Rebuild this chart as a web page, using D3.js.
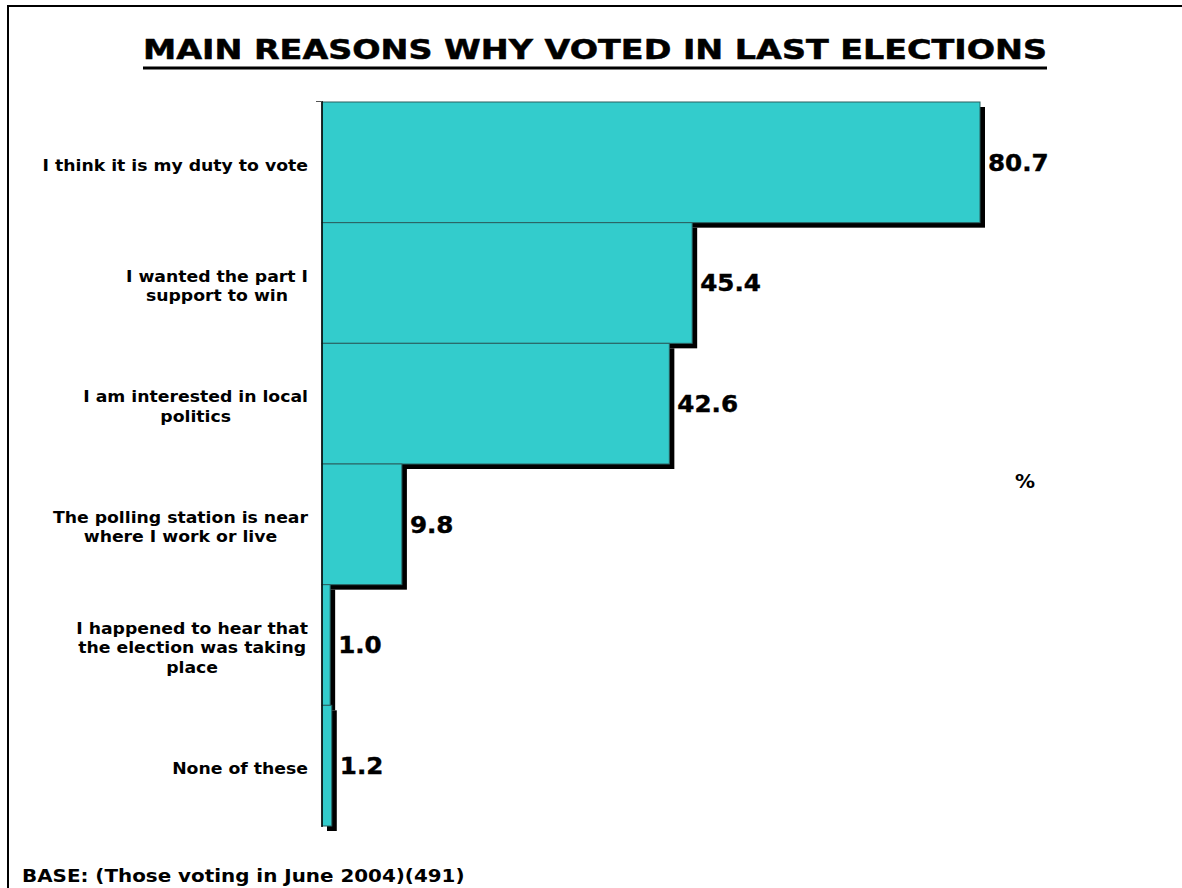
<!DOCTYPE html>
<html>
<head>
<meta charset="utf-8">
<script src="https://cdn.jsdelivr.net/npm/d3@7"></script>
<style>
  body { margin: 0; background: #fff; }
  svg { display: block; font-family: "DejaVu Sans", Verdana, sans-serif; font-weight: bold; }
</style>
</head>
<body>
<svg id="chart" width="1182" height="888"></svg>
<script>
const categories = [
  ["I think it is my duty to vote"],
  ["I wanted the part I", "support to win"],
  ["I am interested in local", "politics"],
  ["The polling station is near", "where I work or live"],
  ["I happened to hear that", "the election was taking", "place"],
  ["None of these"]
];
const values = [80.7, 45.4, 42.6, 9.8, 1.0, 1.2];

const svg = d3.select("#chart");
const width = 1182, height = 888;

// the original is a bit wider than DejaVu, stretch the glyphs a little
function stretch(sel, k) {
  sel.each(function () {
    const len = this.getComputedTextLength();
    d3.select(this)
      .attr("textLength", len * k)
      .attr("lengthAdjust", "spacingAndGlyphs");
  });
}

// frame
svg.append("path")
  .attr("d", `M8,${height} L8,6 L${width},6`)
  .attr("fill", "none")
  .attr("stroke", "#000")
  .attr("stroke-width", 2);

const title = svg.append("text")
  .attr("x", 595)
  .attr("y", 59)
  .attr("text-anchor", "middle")
  .attr("font-size", "26px")
  .attr("stroke", "#000")
  .attr("stroke-width", 0.5)
  .text("MAIN REASONS WHY VOTED IN LAST ELECTIONS");
title.attr("textLength", 904).attr("lengthAdjust", "spacingAndGlyphs");
svg.append("line")
  .attr("x1", 595 - 452).attr("x2", 595 + 452)
  .attr("y1", 68).attr("y2", 68)
  .attr("stroke", "#000")
  .attr("stroke-width", 3);

const x0 = 322;
const xScale = d3.scaleLinear().domain([0, 80.7]).range([x0, 980]);
const yScale = d3.scaleBand()
  .domain(d3.range(values.length))
  .range([102, 826])
  .padding(0);

const data = values.map((v, i) => ({ v, i, lines: categories[i] }));
const shadow = 5;

// shadows
svg.selectAll(".shadow")
  .data(data)
  .enter()
  .append("rect")
  .attr("class", "shadow")
  .attr("x", xScale(0) + shadow)
  .attr("y", (d) => yScale(d.i) + shadow)
  .attr("width", (d) => xScale(d.v) - xScale(0))
  .attr("height", yScale.bandwidth())
  .attr("fill", "#000");

// bars
svg.selectAll(".bar")
  .data(data)
  .enter()
  .append("rect")
  .attr("class", "bar")
  .attr("x", xScale(0))
  .attr("y", (d) => yScale(d.i))
  .attr("width", (d) => xScale(d.v) - xScale(0))
  .attr("height", yScale.bandwidth())
  .attr("fill", "#33CCCC")
  .attr("stroke", "#2a6060")
  .attr("stroke-width", 1);

// axis
svg.append("line")
  .attr("x1", x0).attr("x2", x0)
  .attr("y1", 101).attr("y2", 827)
  .attr("stroke", "#000")
  .attr("stroke-width", 1.5);
svg.append("line")
  .attr("x1", 316).attr("x2", x0)
  .attr("y1", 101.5).attr("y2", 101.5)
  .attr("stroke", "#555")
  .attr("stroke-width", 1);

// value labels
svg.selectAll(".value")
  .data(data)
  .enter()
  .append("text")
  .attr("class", "value")
  .attr("x", (d) => xScale(d.v) + shadow + 3)
  .attr("y", (d) => yScale(d.i) + yScale.bandwidth() / 2)
  .attr("dy", "0.36em")
  .attr("font-size", "23px")
  .attr("stroke", "#000")
  .attr("stroke-width", 0.4)
  .text((d) => d.v.toFixed(1))
  .call(stretch, 1.07);

// category labels
const lineH = 19.5;
const labelK = 1.15;
data.forEach((d) => {
  const cy = yScale(d.i) + yScale.bandwidth() / 2 + 3;
  const g = svg.append("text")
    .attr("font-size", "15px")
    .attr("text-anchor", "middle");
  const n = d.lines.length;
  const spans = d.lines.map((t, k) =>
    g.append("tspan")
      .attr("y", cy + (k - (n - 1) / 2) * lineH)
      .attr("dy", "0.36em")
      .text(t)
  );
  const widths = spans.map((s) => s.node().getComputedTextLength());
  const maxW = d3.max(widths) * labelK;
  spans.forEach((s, k) =>
    s.attr("x", 308 - maxW / 2)
      .attr("textLength", widths[k] * labelK)
      .attr("lengthAdjust", "spacingAndGlyphs")
  );
});

svg.append("text")
  .attr("x", 1025)
  .attr("y", 481)
  .attr("dy", "0.36em")
  .attr("text-anchor", "middle")
  .attr("font-size", "20px")
  .text("%");

svg.append("text")
  .attr("x", 22)
  .attr("y", 882)
  .attr("font-size", "17px")
  .text("BASE: (Those voting in June 2004)(491)")
  .call(stretch, 1.17);
</script>
</body>
</html>
